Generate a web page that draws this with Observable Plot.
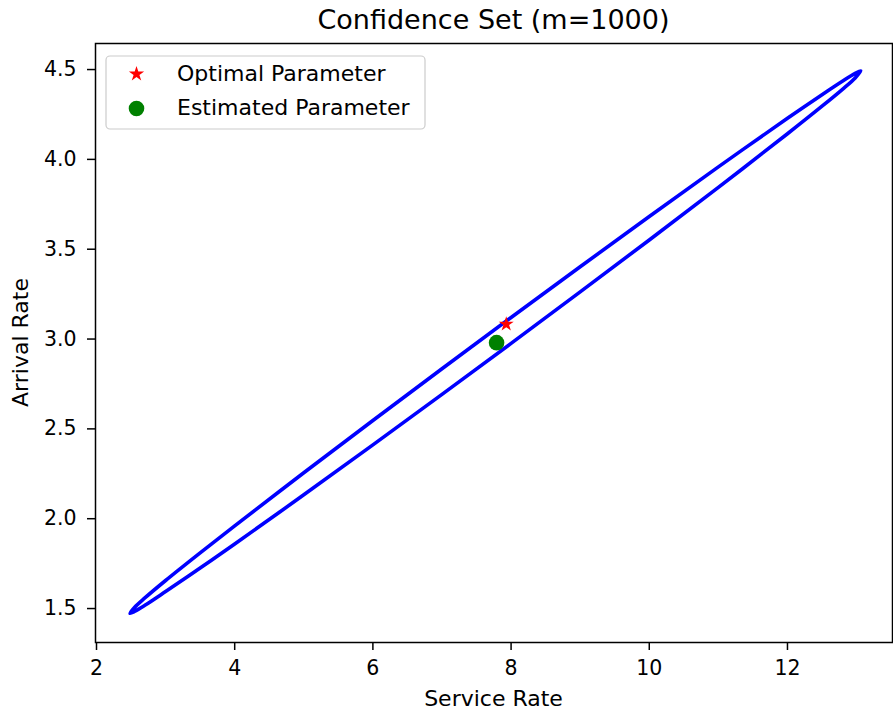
<!DOCTYPE html>
<html><head><meta charset="utf-8">
<script src="https://cdn.jsdelivr.net/npm/d3@7"></script>
<script src="https://cdn.jsdelivr.net/npm/@observablehq/plot@0.6"></script>
<style>
body{margin:0;background:#fff}
#chart svg{font-family:"DejaVu Sans",sans-serif;background:#fff;color:#000}
</style>
</head><body><div id="chart"></div>
<script>
const title = "Confidence Set (m=1000)";
const xLabel = "Service Rate";
const yLabel = "Arrival Rate";
const xTicks = [2, 4, 6, 8, 10, 12];
const yTicks = [1.5, 2.0, 2.5, 3.0, 3.5, 4.0, 4.5];
// Confidence-set boundary:
// lower-left tip, upper edge left→right, upper-right tip, lower edge right→left
const ellipseX = [2.485, 2.55, 2.7, 3.0, 3.5, 4, 5, 6, 7, 8, 9, 10, 11, 12, 12.5, 12.8, 12.98,
                  13.06, 12.98, 12.8, 12.5, 12, 11, 10, 9, 8, 7, 6, 5, 4, 3.5, 3.0, 2.7, 2.55];
const ellipseY = [1.4735, 1.5060, 1.5590, 1.6561, 1.8098, 1.9602, 2.2556, 2.5466, 2.8345, 3.1198, 3.4024, 3.6821, 3.9584, 4.2291, 4.3603, 4.4366, 4.4789,
                  4.4925, 4.4534, 4.3913, 4.2959, 4.1426, 3.8443, 3.5515, 3.2623, 2.9759, 2.6920, 2.4109, 2.1330, 1.8594, 1.7252, 1.5944, 1.5178, 1.4835];
const optimalX = [7.93], optimalY = [3.083];
const estimatedX = [7.79], estimatedY = [2.98];
const legendLabels = ["Optimal Parameter", "Estimated Parameter"];
const legendSymbols = ["star", "circle"];
const legendColors = ["#ff0000", "#008000"];

const boundary = ellipseX.map((x, i) => ({x, y: ellipseY[i]}));
const optimal = optimalX.map((x, i) => ({x, y: optimalY[i]}));
const estimated = estimatedX.map((x, i) => ({x, y: estimatedY[i]}));

const W = 893, H = 713;
const mL = 95, mR = 1, mT = 43, mB = 71;

function legendMark() {
  const g = d3.create("svg:g").attr("text-anchor", "start");
  g.append("rect").attr("x", 106).attr("y", 56).attr("width", 319).attr("height", 73)
    .attr("rx", 4).attr("fill", "#fff").attr("fill-opacity", 0.8).attr("stroke", "#cccccc").attr("stroke-width", 1.2);
  legendLabels.forEach((lab, i) => {
    const cy = 74 + i * 34.5;
    const sym = legendSymbols[i] === "star" ? d3.symbolStar : d3.symbolCircle;
    const size = legendSymbols[i] === "star" ? Math.PI * 4.8 * 4.8 : Math.PI * 7.8 * 7.8;
    g.append("path").attr("transform", `translate(136.5,${cy})`)
      .attr("d", d3.symbol(sym, size)()).attr("fill", legendColors[i]);
    g.append("text").attr("x", 177).attr("y", cy + 6.5).attr("font-size", 22)
      .attr("text-anchor", "start").attr("fill", "#000").text(lab);
  });
  return g.node();
}

const plot = Plot.plot({
  width: W, height: H,
  marginLeft: mL, marginRight: mR, marginTop: mT, marginBottom: mB,
  style: {fontFamily: "DejaVu Sans, sans-serif", background: "#fff", color: "#000"},
  x: {domain: [1.9855, 13.52]},
  y: {domain: [1.311, 4.645]},
  marks: [
    Plot.line(boundary, {x: "x", y: "y", curve: "catmull-rom-closed", stroke: "#0000ff", strokeWidth: 3.6, strokeLinejoin: "round"}),
    Plot.dot(optimal, {x: "x", y: "y", symbol: "star", r: 4.7, fill: "#ff0000", stroke: "none"}),
    Plot.dot(estimated, {x: "x", y: "y", symbol: "circle", r: 7.8, fill: "#008000", stroke: "none"}),
    Plot.frame({stroke: "#000", strokeWidth: 1.5}),
    Plot.axisX({ticks: xTicks, tickSize: 8, tickPadding: 10, fontSize: 20.5, label: null, strokeWidth: 1.5, tickFormat: d3.format("d")}),
    Plot.axisY({ticks: yTicks, tickSize: 8, tickPadding: 11, fontSize: 20.5, label: null, strokeWidth: 1.5, tickFormat: d3.format(".1f")}),
    legendMark
  ]
});

const svg = d3.select(plot);
const xr = plot.scale("x").range, yr = plot.scale("y").range;
const cx = (xr[0] + xr[1]) / 2, cy = (yr[0] + yr[1]) / 2;
svg.append("text").attr("x", cx).attr("y", 29).attr("text-anchor", "middle")
  .attr("font-size", 27).attr("fill", "#000").text(title);
svg.append("text").attr("x", cx).attr("y", 706).attr("text-anchor", "middle")
  .attr("font-size", 22).attr("fill", "#000").text(xLabel);
svg.append("text").attr("transform", `translate(28,${cy}) rotate(-90)`).attr("text-anchor", "middle")
  .attr("font-size", 22).attr("fill", "#000").text(yLabel);

document.getElementById("chart").appendChild(plot);
</script>
</body></html>
